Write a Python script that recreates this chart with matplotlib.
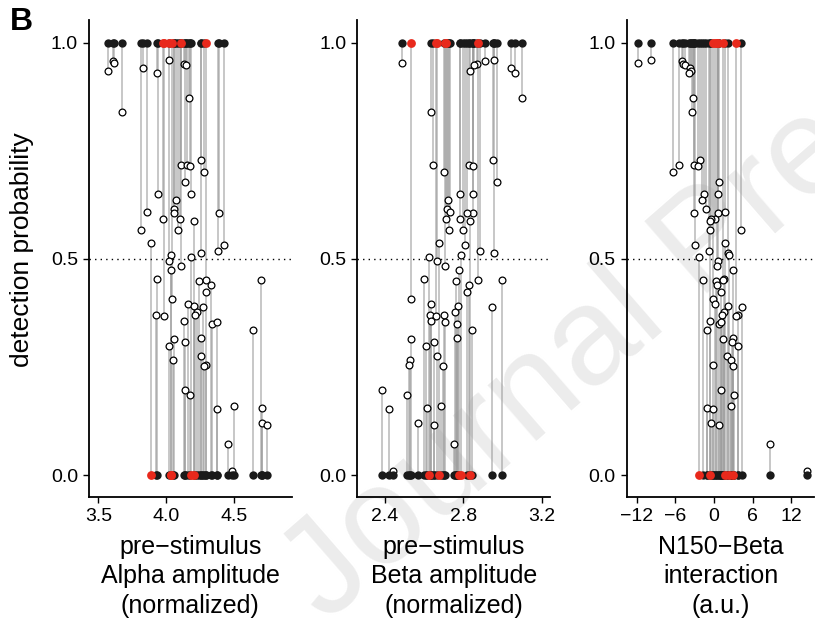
import numpy as np
import matplotlib.pyplot as plt

plt.rcParams['font.family'] = ['Liberation Sans', 'DejaVu Sans']

# one entry per trial: observed outcome, fitted detection probability,
# and the three predictors it is plotted against
outcome = [1, 1, 1, 1, 1, 1, 1, 1, 1, 1,
           1, 1, 1, 1, 1, 1, 1, 1, 1, 1,
           1, 1, 1, 1, 1, 0, 1, 1, 0, 1,
           1, 1, 0, 0, 1, 1, 0, 0, 0, 1,
           0, 0, 0, 1, 0, 0, 0, 0, 0, 0,
           1, 0, 0, 0, 0, 0, 0, 0, 0, 0,
           0, 0, 0, 0, 0, 0, 0, 0, 0, 0,
           0, 0]
prob = [0.961, 0.958, 0.953, 0.950, 0.949, 0.941, 0.936, 0.930, 0.873, 0.839,
        0.728, 0.718, 0.718, 0.716, 0.702, 0.677, 0.650, 0.651, 0.636, 0.615,
        0.609, 0.606, 0.606, 0.592, 0.592, 0.587, 0.567, 0.566, 0.537, 0.532,
        0.519, 0.515, 0.509, 0.504, 0.496, 0.484, 0.474, 0.453, 0.450, 0.452,
        0.452, 0.440, 0.423, 0.407, 0.395, 0.392, 0.388, 0.377, 0.370, 0.370,
        0.369, 0.356, 0.350, 0.354, 0.336, 0.316, 0.318, 0.307, 0.298, 0.275,
        0.267, 0.255, 0.252, 0.197, 0.186, 0.161, 0.155, 0.152, 0.120, 0.116,
        0.072, 0.009]
highlight = [0, 0, 0, 0, 0, 0, 0, 0, 0, 0,
             0, 0, 0, 0, 0, 0, 0, 0, 0, 0,
             0, 0, 0, 1, 0, 1, 0, 0, 1, 0,
             0, 0, 1, 1, 1, 1, 1, 0, 0, 1,
             0, 0, 0, 1, 0, 0, 0, 0, 0, 0,
             1, 0, 0, 0, 0, 0, 0, 0, 0, 0,
             0, 0, 0, 0, 0, 0, 0, 0, 0, 0,
             0, 0]
alpha_amp = [4.024, 3.606, 3.616, 4.132, 4.147, 3.832, 3.572, 3.935, 4.172, 3.675,
             4.256, 4.110, 4.152, 4.177, 4.280, 4.138, 3.941, 4.186, 4.076, 4.059,
             3.857, 4.389, 4.062, 3.977, 4.103, 4.204, 4.088, 3.817, 3.889, 4.425,
             4.383, 4.260, 4.034, 4.182, 4.020, 4.108, 4.037, 3.933, 4.241, 4.293,
             4.701, 4.334, 4.297, 4.042, 4.160, 4.208, 4.273, 4.226, 4.214, 3.928,
             3.983, 4.130, 4.337, 4.376, 4.642, 4.061, 4.256, 4.140, 4.022, 4.258,
             4.054, 4.293, 4.278, 4.142, 4.179, 4.499, 4.706, 4.378, 4.710, 4.743,
             4.457, 4.487]
beta_amp = [2.958, 2.911, 2.488, 2.871, 2.856, 3.044, 2.834, 3.064, 3.098, 2.635,
            2.953, 2.647, 2.829, 2.851, 2.701, 2.972, 2.782, 2.849, 2.722, 2.715,
            2.734, 2.852, 2.819, 2.713, 2.784, 2.836, 2.727, 2.797, 2.676, 2.807,
            2.885, 2.955, 2.790, 2.625, 2.666, 2.708, 2.780, 2.599, 2.761, 2.875,
            2.996, 2.827, 2.817, 2.534, 2.633, 2.774, 2.948, 2.756, 2.703, 2.631,
            2.659, 2.635, 2.766, 2.705, 2.847, 2.531, 2.768, 2.652, 2.608, 2.664,
            2.528, 2.523, 2.695, 2.385, 2.511, 2.684, 2.613, 2.419, 2.570, 2.649,
            2.752, 2.439]
n150_beta = [-9.79, -4.91, -11.75, -4.81, -4.55, -3.78, -3.62, -3.93, -3.27, -3.42,
             -2.24, -5.43, -3.16, -2.44, -6.36, 0.85, 0.65, -1.47, -1.82, -1.31,
             1.73, -3.12, 0.68, 0.23, -0.39, -0.59, -0.54, 4.24, 1.77, -2.90,
             -0.74, 2.13, 2.34, -2.34, 0.69, 0.49, 2.90, 1.57, 0.28, 1.47,
             -1.67, 0.47, 1.11, -0.19, 0.19, 2.19, 4.40, 1.59, 1.26, 3.78,
             3.47, -0.56, 0.82, 1.16, -1.11, 1.42, 2.96, 2.75, 3.73, 2.08,
             2.65, -0.17, 3.01, 1.08, 3.04, 2.62, -1.14, -0.08, -0.43, 0.72,
             8.67, 14.38]

panels = [
    (alpha_amp, [3.5, 4.0, 4.5], ['3.5', '4.0', '4.5'], (3.431, 4.927),
     'pre\u2212stimulus\nAlpha amplitude\n(normalized)'),
    (beta_amp, [2.4, 2.8, 3.2], ['2.4', '2.8', '3.2'], (2.259, 3.243),
     'pre\u2212stimulus\nBeta amplitude\n(normalized)'),
    (n150_beta, [-12, -6, 0, 6, 12], ['\u221212', '\u22126', '0', '6', '12'], (-13.5, 15.6),
     'N150\u2212Beta\ninteraction\n(a.u.)'),
]
axes_boxes = [
    [0.1092, 0.204, 0.2487, 0.764],
    [0.4384, 0.204, 0.2364, 0.764],
    [0.7693, 0.204, 0.2300, 0.764],
]

RED = '#e8291c'

fig = plt.figure(figsize=(8.15, 6.24), dpi=100)

# faint diagonal stamp behind the panels
fig.text(0.40, 0.0, 'Journal Pre-proof', fontsize=100, color='#ececec',
         rotation=41, rotation_mode='anchor', ha='left', va='baseline', zorder=-5)

y_obs = np.array(outcome, dtype=float)
p_fit = np.array(prob)
red = np.array(highlight, dtype=bool)

for (xvals, ticks, ticklabels, xlim, xlabel), box in zip(panels, axes_boxes):
    ax = fig.add_axes(box)
    ax.patch.set_alpha(0)
    x = np.array(xvals)

    ax.vlines(x, y_obs, p_fit, colors='#9a9a9a', linewidth=1.3, alpha=0.6, zorder=1)
    ax.axhline(0.5, color='black', linestyle=(0, (1, 3)), linewidth=1.0, zorder=1.5)
    ax.scatter(x, p_fit, s=24, facecolors='white', edgecolors='black',
               linewidths=0.9, zorder=2)
    ax.scatter(x[~red], y_obs[~red], s=36, color='#1a1a1a', linewidths=0, zorder=3)
    ax.scatter(x[red], y_obs[red], s=40, color=RED, linewidths=0, zorder=4)

    ax.set_xlim(*xlim)
    ax.set_ylim(-0.05, 1.053)
    ax.set_xticks(ticks)
    ax.set_xticklabels(ticklabels)
    ax.set_yticks([0.0, 0.5, 1.0])
    ax.set_yticklabels(['0.0', '0.5', '1.0'])
    for side in ('top', 'right'):
        ax.spines[side].set_visible(False)
    for side in ('left', 'bottom'):
        ax.spines[side].set_linewidth(1.3)
    ax.tick_params(axis='both', length=4, width=1.0, labelsize=14, pad=4)
    ax.set_xlabel(xlabel, fontsize=18, linespacing=1.3, labelpad=7)

fig.text(0.027, 0.6, 'detection probability', rotation=90, fontsize=19,
         ha='center', va='center')
fig.text(0.012, 0.988, 'B', fontsize=23, fontweight='bold', ha='left', va='top')

fig.savefig('out.png', dpi=100)
